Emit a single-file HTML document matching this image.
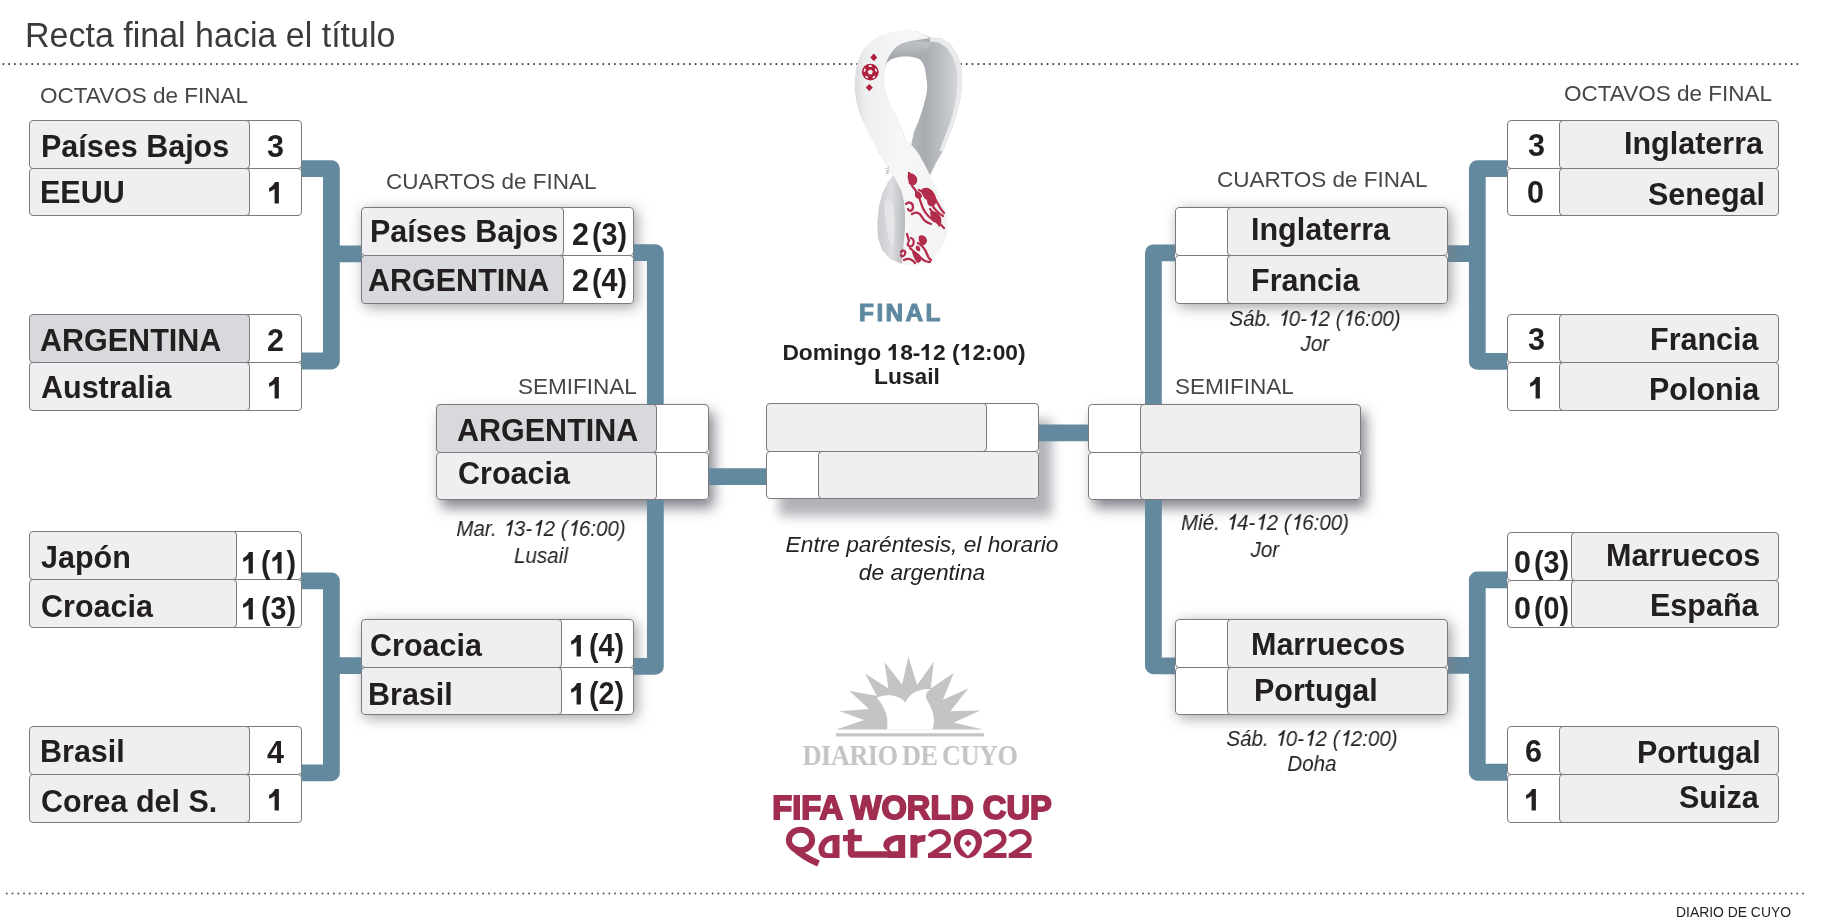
<!DOCTYPE html><html><head><meta charset="utf-8"><style>
*{margin:0;padding:0;box-sizing:border-box}
html,body{width:1828px;height:924px;overflow:hidden;background:#fff}
body{position:relative;font-family:"Liberation Sans",sans-serif}
.t{position:absolute;white-space:nowrap;line-height:1;will-change:transform;z-index:5}
.c{position:absolute;border:1px solid #7b7b7d;border-radius:4px;z-index:3}
.nm{background:#efeff1;z-index:4}
.hl{background:#d8d9dc;z-index:4}
.sc{background:#fff}
.sh{position:absolute;border-radius:4px;z-index:1;background:#fff}
.dots{position:absolute;height:2px;background:repeating-linear-gradient(to right,#5a5a5a 0 2px,transparent 2px 5.75px)}
svg{position:absolute;overflow:visible}
.g1{position:static;display:inline-block;vertical-align:baseline;fill:currentColor}
</style></head><body><div class="t" style="left:24.61px;top:18px;font-size:34px;color:#3b3b3e;transform:scale(1.0,1.04);transform-origin:left 29px;">Recta final hacia el título</div>
<svg style="left:0;top:0;z-index:0" width="1828" height="924" viewBox="0 0 1828 924"><line x1="3.4" y1="64.1" x2="1797.5" y2="64.1" stroke="#4a4a4a" stroke-width="2.1" stroke-dasharray="0 5.7685" stroke-linecap="round"/><line x1="6.8" y1="893.5" x2="1803" y2="893.5" stroke="#505050" stroke-width="1.9" stroke-dasharray="0 5.7386" stroke-linecap="round"/></svg>
<div class="t" style="left:1675.86px;top:906px;font-size:13.9px;color:#222;">DIARIO DE CUYO</div>
<div class="t" style="left:40.43px;top:85px;font-size:22.5px;color:#47474a;">OCTAVOS de FINAL</div>
<div class="t" style="right:56.45px;top:83px;font-size:22.5px;color:#47474a;">OCTAVOS de FINAL</div>
<div class="t" style="left:385.86px;top:171px;font-size:22.5px;color:#47474a;">CUARTOS de FINAL</div>
<div class="t" style="left:1216.76px;top:169px;font-size:22.5px;color:#47474a;">CUARTOS de FINAL</div>
<div class="t" style="right:1191.05px;top:376px;font-size:22.5px;color:#47474a;">SEMIFINAL</div>
<div class="t" style="left:1174.78px;top:376px;font-size:22.5px;color:#47474a;">SEMIFINAL</div>
<div class="t" style="left:-98.70px;width:2000px;text-align:center;top:301px;font-size:24.4px;font-weight:700;color:#5e89a0;letter-spacing:2.4px;-webkit-text-stroke:1px #5e89a0;">FINAL</div>
<div class="t" style="left:-96.00px;width:2000px;text-align:center;top:341px;font-size:22.8px;font-weight:700;color:#231f20;">Domingo <svg class="g1" width="12.68" height="16.07" viewBox="0 0 12.68 16.07"><path d="M5.68,16.07 L8.89,16.07 L8.89,0 L5.97,0 C5.24,1.94 3.65,3.65 1.57,4.56 L1.57,7.32 C3.19,6.84 4.56,6.04 5.68,5.02 Z"/></svg>8-<svg class="g1" width="12.68" height="16.07" viewBox="0 0 12.68 16.07"><path d="M5.68,16.07 L8.89,16.07 L8.89,0 L5.97,0 C5.24,1.94 3.65,3.65 1.57,4.56 L1.57,7.32 C3.19,6.84 4.56,6.04 5.68,5.02 Z"/></svg>2 (<svg class="g1" width="12.68" height="16.07" viewBox="0 0 12.68 16.07"><path d="M5.68,16.07 L8.89,16.07 L8.89,0 L5.97,0 C5.24,1.94 3.65,3.65 1.57,4.56 L1.57,7.32 C3.19,6.84 4.56,6.04 5.68,5.02 Z"/></svg>2:00)</div>
<div class="t" style="left:-93.00px;width:2000px;text-align:center;top:365px;font-size:22.8px;font-weight:700;color:#231f20;">Lusail</div>
<div class="t" style="left:-459.40px;width:2000px;text-align:center;top:518px;font-size:22.5px;font-style:italic;color:#222;transform:scale(0.913,1.0);transform-origin:center 18px;">Mar. <svg class="g1" width="12.51" height="15.86" viewBox="0 0 12.51 15.86"><path d="M5.96,15.86 L8.21,15.86 L11.58,0.00 L9.90,0.00 C8.61,1.80 6.93,3.38 4.71,4.28 L4.31,6.19 C5.95,5.85 7.45,5.17 8.43,4.28 Z"/></svg>3-<svg class="g1" width="12.51" height="15.86" viewBox="0 0 12.51 15.86"><path d="M5.96,15.86 L8.21,15.86 L11.58,0.00 L9.90,0.00 C8.61,1.80 6.93,3.38 4.71,4.28 L4.31,6.19 C5.95,5.85 7.45,5.17 8.43,4.28 Z"/></svg>2 (<svg class="g1" width="12.51" height="15.86" viewBox="0 0 12.51 15.86"><path d="M5.96,15.86 L8.21,15.86 L11.58,0.00 L9.90,0.00 C8.61,1.80 6.93,3.38 4.71,4.28 L4.31,6.19 C5.95,5.85 7.45,5.17 8.43,4.28 Z"/></svg>6:00)</div>
<div class="t" style="left:-459.40px;width:2000px;text-align:center;top:545px;font-size:22.5px;font-style:italic;color:#222;transform:scale(0.913,1.0);transform-origin:center 18px;">Lusail</div>
<div class="t" style="left:314.60px;width:2000px;text-align:center;top:308px;font-size:22.5px;font-style:italic;color:#222;transform:scale(0.913,1.0);transform-origin:center 18px;">Sáb. <svg class="g1" width="12.51" height="15.86" viewBox="0 0 12.51 15.86"><path d="M5.96,15.86 L8.21,15.86 L11.58,0.00 L9.90,0.00 C8.61,1.80 6.93,3.38 4.71,4.28 L4.31,6.19 C5.95,5.85 7.45,5.17 8.43,4.28 Z"/></svg>0-<svg class="g1" width="12.51" height="15.86" viewBox="0 0 12.51 15.86"><path d="M5.96,15.86 L8.21,15.86 L11.58,0.00 L9.90,0.00 C8.61,1.80 6.93,3.38 4.71,4.28 L4.31,6.19 C5.95,5.85 7.45,5.17 8.43,4.28 Z"/></svg>2 (<svg class="g1" width="12.51" height="15.86" viewBox="0 0 12.51 15.86"><path d="M5.96,15.86 L8.21,15.86 L11.58,0.00 L9.90,0.00 C8.61,1.80 6.93,3.38 4.71,4.28 L4.31,6.19 C5.95,5.85 7.45,5.17 8.43,4.28 Z"/></svg>6:00)</div>
<div class="t" style="left:314.60px;width:2000px;text-align:center;top:333px;font-size:22.5px;font-style:italic;color:#222;transform:scale(0.913,1.0);transform-origin:center 18px;">Jor</div>
<div class="t" style="left:264.50px;width:2000px;text-align:center;top:512px;font-size:22.5px;font-style:italic;color:#222;transform:scale(0.913,1.0);transform-origin:center 18px;">Mié. <svg class="g1" width="12.51" height="15.86" viewBox="0 0 12.51 15.86"><path d="M5.96,15.86 L8.21,15.86 L11.58,0.00 L9.90,0.00 C8.61,1.80 6.93,3.38 4.71,4.28 L4.31,6.19 C5.95,5.85 7.45,5.17 8.43,4.28 Z"/></svg>4-<svg class="g1" width="12.51" height="15.86" viewBox="0 0 12.51 15.86"><path d="M5.96,15.86 L8.21,15.86 L11.58,0.00 L9.90,0.00 C8.61,1.80 6.93,3.38 4.71,4.28 L4.31,6.19 C5.95,5.85 7.45,5.17 8.43,4.28 Z"/></svg>2 (<svg class="g1" width="12.51" height="15.86" viewBox="0 0 12.51 15.86"><path d="M5.96,15.86 L8.21,15.86 L11.58,0.00 L9.90,0.00 C8.61,1.80 6.93,3.38 4.71,4.28 L4.31,6.19 C5.95,5.85 7.45,5.17 8.43,4.28 Z"/></svg>6:00)</div>
<div class="t" style="left:264.50px;width:2000px;text-align:center;top:539px;font-size:22.5px;font-style:italic;color:#222;transform:scale(0.913,1.0);transform-origin:center 18px;">Jor</div>
<div class="t" style="left:312.00px;width:2000px;text-align:center;top:728px;font-size:22.5px;font-style:italic;color:#222;transform:scale(0.913,1.0);transform-origin:center 18px;">Sáb. <svg class="g1" width="12.51" height="15.86" viewBox="0 0 12.51 15.86"><path d="M5.96,15.86 L8.21,15.86 L11.58,0.00 L9.90,0.00 C8.61,1.80 6.93,3.38 4.71,4.28 L4.31,6.19 C5.95,5.85 7.45,5.17 8.43,4.28 Z"/></svg>0-<svg class="g1" width="12.51" height="15.86" viewBox="0 0 12.51 15.86"><path d="M5.96,15.86 L8.21,15.86 L11.58,0.00 L9.90,0.00 C8.61,1.80 6.93,3.38 4.71,4.28 L4.31,6.19 C5.95,5.85 7.45,5.17 8.43,4.28 Z"/></svg>2 (<svg class="g1" width="12.51" height="15.86" viewBox="0 0 12.51 15.86"><path d="M5.96,15.86 L8.21,15.86 L11.58,0.00 L9.90,0.00 C8.61,1.80 6.93,3.38 4.71,4.28 L4.31,6.19 C5.95,5.85 7.45,5.17 8.43,4.28 Z"/></svg>2:00)</div>
<div class="t" style="left:312.00px;width:2000px;text-align:center;top:753px;font-size:22.5px;font-style:italic;color:#222;transform:scale(0.913,1.0);transform-origin:center 18px;">Doha</div>
<div class="t" style="left:-78.40px;width:2000px;text-align:center;top:533px;font-size:22.73px;font-style:italic;color:#222;">Entre paréntesis, el horario</div>
<div class="t" style="left:-78.40px;width:2000px;text-align:center;top:561px;font-size:22.73px;font-style:italic;color:#222;">de argentina</div>
<svg style="left:0;top:0;z-index:2" width="1828" height="924" viewBox="0 0 1828 924"><g fill="none" stroke="#63899e" stroke-width="16.8" stroke-linejoin="round"><path d="M301 168.7 H331.4 V361 H301 M331.4 253.9 H362"/><path d="M301 580.85 H331.4 V772.9 H301 M331.4 665.65 H362"/><path d="M633 252.6 H655.35 V666.4 H633"/><path d="M708 476.65 H767"/><path d="M1507 168.7 H1477.3 V361.4 H1507 M1477.3 253.65 H1446"/><path d="M1507 579.85 H1477.3 V772.25 H1507 M1477.3 665.45 H1446"/><path d="M1175 252.8 H1153.4 V665.85 H1175"/><path d="M1038 432.85 H1088"/></g></svg>
<div class="c sc" style="left:237px;top:120px;width:65px;height:49px"></div>
<div class="c nm" style="left:29px;top:120px;width:221px;height:49px"></div>
<div class="t" style="left:40.96px;top:131px;font-size:30.5px;font-weight:700;color:#231f20;">Países Bajos</div>
<div class="t" style="left:267.30px;top:131px;font-size:30.5px;font-weight:700;color:#231f20;">3</div>
<div class="c sc" style="left:237px;top:168px;width:65px;height:48px"></div>
<div class="c nm" style="left:29px;top:168px;width:221px;height:48px"></div>
<div class="t" style="left:40.26px;top:177px;font-size:30.5px;font-weight:700;color:#231f20;">EEUU</div>
<div class="t" style="left:267.08px;top:177px;font-size:30.5px;font-weight:700;color:#231f20;"><svg class="g1" width="16.96" height="21.50" viewBox="0 0 16.96 21.50"><path d="M7.59,21.50 L11.89,21.50 L11.89,0 L7.99,0 C7.02,2.59 4.88,4.88 2.10,6.10 L2.10,9.79 C4.27,9.15 6.10,8.08 7.59,6.71 Z"/></svg></div>
<div class="c sc" style="left:237px;top:314px;width:65px;height:49px"></div>
<div class="c hl" style="left:29px;top:314px;width:221px;height:49px"></div>
<div class="t" style="left:40.34px;top:325px;font-size:30.5px;font-weight:700;color:#231f20;">ARGENTINA</div>
<div class="t" style="left:266.94px;top:325px;font-size:30.5px;font-weight:700;color:#231f20;">2</div>
<div class="c sc" style="left:237px;top:362px;width:65px;height:49px"></div>
<div class="c nm" style="left:29px;top:362px;width:221px;height:49px"></div>
<div class="t" style="left:40.54px;top:372px;font-size:30.5px;font-weight:700;color:#231f20;">Australia</div>
<div class="t" style="left:267.08px;top:372px;font-size:30.5px;font-weight:700;color:#231f20;"><svg class="g1" width="16.96" height="21.50" viewBox="0 0 16.96 21.50"><path d="M7.59,21.50 L11.89,21.50 L11.89,0 L7.99,0 C7.02,2.59 4.88,4.88 2.10,6.10 L2.10,9.79 C4.27,9.15 6.10,8.08 7.59,6.71 Z"/></svg></div>
<div class="c sc" style="left:224px;top:531px;width:78px;height:49px"></div>
<div class="c nm" style="left:29px;top:531px;width:208px;height:49px"></div>
<div class="t" style="left:41.24px;top:542px;font-size:30.5px;font-weight:700;color:#231f20;">Japón</div>
<div class="t" style="left:240.98px;top:547px;font-size:30.5px;font-weight:700;color:#231f20;"><svg class="g1" width="16.96" height="21.50" viewBox="0 0 16.96 21.50"><path d="M7.59,21.50 L11.89,21.50 L11.89,0 L7.99,0 C7.02,2.59 4.88,4.88 2.10,6.10 L2.10,9.79 C4.27,9.15 6.10,8.08 7.59,6.71 Z"/></svg><span style="display:inline-block;margin-left:3.3px;transform:scaleX(0.94);transform-origin:left">(<svg class="g1" width="16.96" height="21.50" viewBox="0 0 16.96 21.50"><path d="M7.59,21.50 L11.89,21.50 L11.89,0 L7.99,0 C7.02,2.59 4.88,4.88 2.10,6.10 L2.10,9.79 C4.27,9.15 6.10,8.08 7.59,6.71 Z"/></svg>)</span></div>
<div class="c sc" style="left:224px;top:579px;width:78px;height:49px"></div>
<div class="c nm" style="left:29px;top:579px;width:208px;height:49px"></div>
<div class="t" style="left:41.15px;top:591px;font-size:30.5px;font-weight:700;color:#231f20;">Croacia</div>
<div class="t" style="left:240.98px;top:593px;font-size:30.5px;font-weight:700;color:#231f20;"><svg class="g1" width="16.96" height="21.50" viewBox="0 0 16.96 21.50"><path d="M7.59,21.50 L11.89,21.50 L11.89,0 L7.99,0 C7.02,2.59 4.88,4.88 2.10,6.10 L2.10,9.79 C4.27,9.15 6.10,8.08 7.59,6.71 Z"/></svg><span style="display:inline-block;margin-left:3.3px;transform:scaleX(0.94);transform-origin:left">(3)</span></div>
<div class="c sc" style="left:237px;top:726px;width:65px;height:49px"></div>
<div class="c nm" style="left:29px;top:726px;width:221px;height:49px"></div>
<div class="t" style="left:39.86px;top:736px;font-size:30.5px;font-weight:700;color:#231f20;">Brasil</div>
<div class="t" style="left:266.94px;top:737px;font-size:30.5px;font-weight:700;color:#231f20;">4</div>
<div class="c sc" style="left:237px;top:774px;width:65px;height:49px"></div>
<div class="c nm" style="left:29px;top:774px;width:221px;height:49px"></div>
<div class="t" style="left:41.05px;top:786px;font-size:30.5px;font-weight:700;color:#231f20;">Corea del S.</div>
<div class="t" style="left:266.98px;top:784px;font-size:30.5px;font-weight:700;color:#231f20;"><svg class="g1" width="16.96" height="21.50" viewBox="0 0 16.96 21.50"><path d="M7.59,21.50 L11.89,21.50 L11.89,0 L7.99,0 C7.02,2.59 4.88,4.88 2.10,6.10 L2.10,9.79 C4.27,9.15 6.10,8.08 7.59,6.71 Z"/></svg></div>
<div class="sh" style="left:361px;top:207px;width:273px;height:97px;box-shadow:3px 3px 14px rgba(120,122,128,0.7);z-index:1"></div>
<div class="c sc" style="left:551px;top:207px;width:83px;height:49px"></div>
<div class="c nm" style="left:361px;top:207px;width:203px;height:49px"></div>
<div class="t" style="left:369.66px;top:216px;font-size:30.5px;font-weight:700;color:#231f20;">Países Bajos</div>
<div class="t" style="left:572.14px;top:219px;font-size:30.5px;font-weight:700;color:#231f20;">2<span style="display:inline-block;margin-left:3.3px;transform:scaleX(0.94);transform-origin:left">(3)</span></div>
<div class="c sc" style="left:551px;top:255px;width:83px;height:49px"></div>
<div class="c hl" style="left:361px;top:255px;width:203px;height:49px"></div>
<div class="t" style="left:367.64px;top:265px;font-size:30.5px;font-weight:700;color:#231f20;">ARGENTINA</div>
<div class="t" style="left:572.14px;top:265px;font-size:30.5px;font-weight:700;color:#231f20;">2<span style="display:inline-block;margin-left:3.3px;transform:scaleX(0.94);transform-origin:left">(4)</span></div>
<div class="sh" style="left:361px;top:619px;width:273px;height:96px;box-shadow:3px 3px 14px rgba(120,122,128,0.7);z-index:1"></div>
<div class="c sc" style="left:549px;top:619px;width:85px;height:49px"></div>
<div class="c nm" style="left:361px;top:619px;width:201px;height:49px"></div>
<div class="t" style="left:370.25px;top:630px;font-size:30.5px;font-weight:700;color:#231f20;">Croacia</div>
<div class="t" style="left:568.98px;top:630px;font-size:30.5px;font-weight:700;color:#231f20;"><svg class="g1" width="16.96" height="21.50" viewBox="0 0 16.96 21.50"><path d="M7.59,21.50 L11.89,21.50 L11.89,0 L7.99,0 C7.02,2.59 4.88,4.88 2.10,6.10 L2.10,9.79 C4.27,9.15 6.10,8.08 7.59,6.71 Z"/></svg><span style="display:inline-block;margin-left:3.3px;transform:scaleX(0.94);transform-origin:left">(4)</span></div>
<div class="c sc" style="left:549px;top:667px;width:85px;height:48px"></div>
<div class="c nm" style="left:361px;top:667px;width:201px;height:48px"></div>
<div class="t" style="left:367.86px;top:679px;font-size:30.5px;font-weight:700;color:#231f20;">Brasil</div>
<div class="t" style="left:568.98px;top:678px;font-size:30.5px;font-weight:700;color:#231f20;"><svg class="g1" width="16.96" height="21.50" viewBox="0 0 16.96 21.50"><path d="M7.59,21.50 L11.89,21.50 L11.89,0 L7.99,0 C7.02,2.59 4.88,4.88 2.10,6.10 L2.10,9.79 C4.27,9.15 6.10,8.08 7.59,6.71 Z"/></svg><span style="display:inline-block;margin-left:3.3px;transform:scaleX(0.94);transform-origin:left">(2)</span></div>
<div class="sh" style="left:436px;top:404px;width:273px;height:96px;box-shadow:5px 8px 13px rgba(50,55,65,0.6);z-index:1"></div>
<div class="c sc" style="left:644px;top:404px;width:65px;height:49px"></div>
<div class="c hl" style="left:436px;top:404px;width:221px;height:49px"></div>
<div class="t" style="left:457.24px;top:415px;font-size:30.5px;font-weight:700;color:#231f20;">ARGENTINA</div>
<div class="c sc" style="left:644px;top:452px;width:65px;height:48px"></div>
<div class="c nm" style="left:436px;top:452px;width:221px;height:48px"></div>
<div class="t" style="left:457.55px;top:458px;font-size:30.5px;font-weight:700;color:#231f20;">Croacia</div>
<div class="sh" style="left:766px;top:403px;width:273px;height:96px;box-shadow:13px 17px 12px rgba(60,65,75,0.4)"></div>
<div class="c sc" style="left:974px;top:403px;width:65px;height:49px"></div>
<div class="c nm" style="left:766px;top:403px;width:221px;height:49px"></div>
<div class="c sc" style="left:766px;top:451px;width:64px;height:48px"></div>
<div class="c nm" style="left:818px;top:451px;width:221px;height:48px"></div>
<div class="sh" style="left:1088px;top:404px;width:273px;height:96px;box-shadow:5px 8px 13px rgba(50,55,65,0.6);z-index:1"></div>
<div class="c sc" style="left:1088px;top:404px;width:65px;height:49px"></div>
<div class="c nm" style="left:1140px;top:404px;width:221px;height:49px"></div>
<div class="c sc" style="left:1088px;top:452px;width:65px;height:48px"></div>
<div class="c nm" style="left:1140px;top:452px;width:221px;height:48px"></div>
<div class="sh" style="left:1175px;top:207px;width:273px;height:97px;box-shadow:3px 3px 14px rgba(120,122,128,0.7);z-index:3"></div>
<div class="c sc" style="left:1175px;top:207px;width:65px;height:49px"></div>
<div class="c nm" style="left:1227px;top:207px;width:221px;height:49px"></div>
<div class="t" style="left:1250.66px;top:214px;font-size:30.5px;font-weight:700;color:#231f20;">Inglaterra</div>
<div class="c sc" style="left:1175px;top:255px;width:65px;height:49px"></div>
<div class="c nm" style="left:1227px;top:255px;width:221px;height:49px"></div>
<div class="t" style="left:1251.46px;top:265px;font-size:30.5px;font-weight:700;color:#231f20;">Francia</div>
<div class="sh" style="left:1175px;top:619px;width:273px;height:96px;box-shadow:3px 3px 14px rgba(120,122,128,0.7);z-index:3"></div>
<div class="c sc" style="left:1175px;top:619px;width:65px;height:49px"></div>
<div class="c nm" style="left:1227px;top:619px;width:221px;height:49px"></div>
<div class="t" style="left:1250.66px;top:629px;font-size:30.5px;font-weight:700;color:#231f20;">Marruecos</div>
<div class="c sc" style="left:1175px;top:667px;width:65px;height:48px"></div>
<div class="c nm" style="left:1227px;top:667px;width:221px;height:48px"></div>
<div class="t" style="left:1253.76px;top:675px;font-size:30.5px;font-weight:700;color:#231f20;">Portugal</div>
<div class="c sc" style="left:1507px;top:120px;width:65px;height:49px"></div>
<div class="c nm" style="left:1559px;top:120px;width:220px;height:49px"></div>
<div class="t" style="right:65.39px;top:128px;font-size:30.5px;font-weight:700;color:#231f20;">Inglaterra</div>
<div class="t" style="left:1528.00px;top:130px;font-size:30.5px;font-weight:700;color:#231f20;">3</div>
<div class="c sc" style="left:1507px;top:168px;width:65px;height:48px"></div>
<div class="c nm" style="left:1559px;top:168px;width:220px;height:48px"></div>
<div class="t" style="right:63.04px;top:179px;font-size:30.5px;font-weight:700;color:#231f20;">Senegal</div>
<div class="t" style="left:1527.49px;top:177px;font-size:30.5px;font-weight:700;color:#231f20;">0</div>
<div class="c sc" style="left:1507px;top:314px;width:65px;height:49px"></div>
<div class="c nm" style="left:1559px;top:314px;width:220px;height:49px"></div>
<div class="t" style="right:69.19px;top:324px;font-size:30.5px;font-weight:700;color:#231f20;">Francia</div>
<div class="t" style="left:1528.00px;top:324px;font-size:30.5px;font-weight:700;color:#231f20;">3</div>
<div class="c sc" style="left:1507px;top:362px;width:65px;height:49px"></div>
<div class="c nm" style="left:1559px;top:362px;width:220px;height:49px"></div>
<div class="t" style="right:69.19px;top:374px;font-size:30.5px;font-weight:700;color:#231f20;">Polonia</div>
<div class="t" style="left:1527.58px;top:372px;font-size:30.5px;font-weight:700;color:#231f20;"><svg class="g1" width="16.96" height="21.50" viewBox="0 0 16.96 21.50"><path d="M7.59,21.50 L11.89,21.50 L11.89,0 L7.99,0 C7.02,2.59 4.88,4.88 2.10,6.10 L2.10,9.79 C4.27,9.15 6.10,8.08 7.59,6.71 Z"/></svg></div>
<div class="c sc" style="left:1507px;top:532px;width:77px;height:49px"></div>
<div class="c nm" style="left:1571px;top:532px;width:208px;height:49px"></div>
<div class="t" style="right:67.75px;top:540px;font-size:30.5px;font-weight:700;color:#231f20;">Marruecos</div>
<div class="t" style="left:1513.79px;top:547px;font-size:30.5px;font-weight:700;color:#231f20;">0<span style="display:inline-block;margin-left:3.3px;transform:scaleX(0.94);transform-origin:left">(3)</span></div>
<div class="c sc" style="left:1507px;top:580px;width:77px;height:48px"></div>
<div class="c nm" style="left:1571px;top:580px;width:208px;height:48px"></div>
<div class="t" style="right:69.19px;top:590px;font-size:30.5px;font-weight:700;color:#231f20;">España</div>
<div class="t" style="left:1513.79px;top:593px;font-size:30.5px;font-weight:700;color:#231f20;">0<span style="display:inline-block;margin-left:3.3px;transform:scaleX(0.94);transform-origin:left">(0)</span></div>
<div class="c sc" style="left:1507px;top:726px;width:65px;height:49px"></div>
<div class="c nm" style="left:1559px;top:726px;width:220px;height:49px"></div>
<div class="t" style="right:67.34px;top:737px;font-size:30.5px;font-weight:700;color:#231f20;">Portugal</div>
<div class="t" style="left:1524.58px;top:736px;font-size:30.5px;font-weight:700;color:#231f20;">6</div>
<div class="c sc" style="left:1507px;top:774px;width:65px;height:49px"></div>
<div class="c nm" style="left:1559px;top:774px;width:220px;height:49px"></div>
<div class="t" style="right:69.69px;top:782px;font-size:30.5px;font-weight:700;color:#231f20;">Suiza</div>
<div class="t" style="left:1524.48px;top:784px;font-size:30.5px;font-weight:700;color:#231f20;"><svg class="g1" width="16.96" height="21.50" viewBox="0 0 16.96 21.50"><path d="M7.59,21.50 L11.89,21.50 L11.89,0 L7.99,0 C7.02,2.59 4.88,4.88 2.10,6.10 L2.10,9.79 C4.27,9.15 6.10,8.08 7.59,6.71 Z"/></svg></div>
<svg style="left:830px;top:650px;z-index:1" width="160" height="90" viewBox="0 0 1643 924">
<path fill="#c4c3c5" d="M65 815 L350 720 L100 630 L400 605 L200 420 L480 470 L360 240 L600 395 L560 125 L740 355 L805 70 L895 360 L1065 120 L1035 395 L1270 235 L1160 510 L1420 395 L1235 630 L1545 620 L1270 745 L1570 815 Z"/>
<path fill="#fff" d="M585 815 C600 720 590 620 480 490 C540 455 700 440 775 540 C800 470 880 395 1035 400 C980 430 975 480 1000 520 C1060 620 1090 720 1050 815 Z"/>
<rect x="62" y="855" width="1520" height="33" fill="#c4c3c5"/>
</svg>
<div class="t" style="left:-89.70px;width:2000px;text-align:center;top:740px;font-size:30px;font-weight:700;color:#c4c4c6;font-family:'Liberation Serif', serif;transform:scale(0.875,1.0);transform-origin:center 25px;letter-spacing:-0.5px;word-spacing:-2px;">DIARIO DE CUYO</div>
<div class="t" style="left:-88.50px;width:2000px;text-align:center;top:792px;font-size:32.6px;font-weight:700;color:#a12e50;-webkit-text-stroke:1.8px #a12e50;">FIFA WORLD CUP</div>
<svg style="left:0;top:0;z-index:1" width="1828" height="924" viewBox="0 0 1828 924"><ellipse cx="800.5" cy="840" rx="11.6" ry="10.2" fill="none" stroke="#a12e50" stroke-width="6"/><path d="M794,848 C800,854 808,859 818.5,863.5" fill="none" stroke="#a12e50" stroke-width="6.5"/><path fill-rule="evenodd" fill="#a12e50" d="M839.5,835 L839.5,858 L826,858 C821,858 818.5,854 818.5,849 C818.5,842 825,835.5 832.5,835 Z M832.5,840.5 C828,841.5 824.5,845.5 824.5,849.5 C824.5,852 826,853.2 828,853.2 L832.5,853.2 Z"/><path fill="#a12e50" d="M847.8,830 L854.4,828.5 L854.4,835 L861.8,835 L861.8,841.2 L854.4,841.2 L854.4,851.3 L889.4,851.3 L889.4,857.8 L853,857.8 C849.5,857.8 847.8,855.5 847.8,852 L847.8,841.2 L843,841.2 L843,835 L847.8,835 Z"/><path fill-rule="evenodd" fill="#a12e50" d="M905.2,835 L905.2,858 L888,858 L888,851.3 C885,850 883.3,847 883.3,845 C883.3,839 890,835.5 898,835 Z M898.2,840.5 C893.5,841.5 889.5,844.5 889.5,848 C889.5,850.5 891,851.3 893,851.3 L898.2,851.3 Z"/><path fill="#a12e50" d="M910.4,835 L917.4,835 L917.4,836.5 C919,835.5 922,835 925.7,835 L925.2,841.6 C921,841.6 919,842.5 917.4,844 L917.4,857.8 L910.4,857.8 Z"/><path d="M930,836.5 C932,832 936,831.5 939.5,831.5 C945.5,831.5 948.5,835 948.5,839.5 C948.5,844 944,846.5 939,849.5 L931,855" fill="none" stroke="#a12e50" stroke-width="5"/><rect x="928" y="853" width="23" height="5" fill="#a12e50"/><path fill-rule="evenodd" fill="#a12e50" d="M968,829 C976.5,829 982,834 982,841 C982,850 975,858.2 968,858.2 C961,858.2 953.8,850 953.8,841 C953.8,834 959.5,829 968,829 Z M968,834.8 C972.5,834.8 975.8,838 975.8,843 C975.8,848 971,853 968,855.8 C965,853 960,848 960,843 C960,838 963.5,834.8 968,834.8 Z"/><path fill="#a12e50" d="M968,839.8 L971.6,843.4 L968,847 L964.4,843.4 Z"/><path d="M985.5,836.5 C987.5,832 991.5,831.5 995.0,831.5 C1001.0,831.5 1004.0,835 1004.0,839.5 C1004.0,844 999.5,846.5 994.5,849.5 L986.5,855" fill="none" stroke="#a12e50" stroke-width="5"/><rect x="983.5" y="853" width="23" height="5" fill="#a12e50"/><path d="M1010.7,836.5 C1012.7,832 1016.7,831.5 1020.2,831.5 C1026.2,831.5 1029.2,835 1029.2,839.5 C1029.2,844 1024.7,846.5 1019.7,849.5 L1011.7,855" fill="none" stroke="#a12e50" stroke-width="5"/><rect x="1008.7" y="853" width="23" height="5" fill="#a12e50"/></svg>
<svg style="left:0;top:0;z-index:1;will-change:transform" width="1828" height="924" viewBox="0 0 1828 924">
<defs>
<linearGradient id="gb" gradientUnits="userSpaceOnUse" x1="905" y1="0" x2="962" y2="0">
<stop offset="0" stop-color="#b8bbbf"/><stop offset="0.35" stop-color="#a8acb1"/><stop offset="0.75" stop-color="#c4c7ca"/><stop offset="1" stop-color="#dcdddf"/>
</linearGradient>
<linearGradient id="gl" gradientUnits="userSpaceOnUse" x1="877" y1="0" x2="906" y2="0">
<stop offset="0" stop-color="#c9cbce"/><stop offset="0.5" stop-color="#dcdde0"/><stop offset="1" stop-color="#b4b7bb"/>
</linearGradient>
<linearGradient id="gw" gradientUnits="userSpaceOnUse" x1="855" y1="0" x2="948" y2="0">
<stop offset="0" stop-color="#dadbdd"/><stop offset="0.12" stop-color="#eeeff0"/><stop offset="0.5" stop-color="#f7f7f8"/><stop offset="1" stop-color="#f3f3f4"/>
</linearGradient>
<linearGradient id="gt" gradientUnits="userSpaceOnUse" x1="0" y1="40" x2="0" y2="60">
<stop offset="0" stop-color="#c3c6c9"/><stop offset="1" stop-color="#9fa3a8"/>
</linearGradient>
</defs>
<path fill="url(#gb)" d="M906,30.6 L916,31.3 L924.4,34.8 L931.5,37.7 L941.3,38.4 L949.7,43.3 L956.8,53.1 L961.7,67.2 L962.4,81.3 L961,95.4 L958.2,109.4 L954,123.5 L948.3,137.6 L942.7,151.6 L936,163 L930,175.2 L910,180 L893.5,175.2 L878,151.6 L860,100 L872.4,40.5 Z"/>
<path fill="url(#gt)" d="M886,66 C888,55 896,46 906,43 C914,41 924,41 932,43 C926,50 922,56 920,60 C915,57 905,56 898,57 C892,58 888,62 886,66 Z"/>
<path fill="url(#gl)" d="M893.5,175.2 L887.8,182.2 L882.2,193.5 L878.7,207.5 L877.3,224.4 L878,238 L882,250 L890,259 L902,264 L906,230 L904,195 Z"/>
<path fill="#e4e5e7" d="M885,200 C889,197 893,200 894,210 C895,222 895,236 893,248 C890,244 887,235 886,225 C885,215 884,205 885,200 Z"/>
<path fill="#fff" d="M885,67.2 C886.5,62 890,58.5 899,57 C905,56.2 913,56.5 918.8,58.8 C923,61.5 925.2,67 925.8,74.2 C926.8,80 927.4,85 927.2,88.3 C926.7,94 925.6,98.5 924.4,102.4 C923,108 921.7,112 920.2,116.5 C918.3,122 916.3,126 914.6,130.5 C913,136 911.5,142 910.3,152 C909,146 907.6,142 906.1,140 C903.5,134 901.3,128 899.1,123.5 C896.3,117 894,113 892,109.4 C889.6,104 887.8,100 886.4,95.4 C884.6,90 883.5,86 883.6,81.3 C883.6,76 884,71 885,67.2 Z"/>
<path fill="url(#gw)" d="M930,38 L924.4,34.8 C921,33 918,31.5 916,31.3 L906,30.6 C900,30.8 896,31.3 893.5,32 C889,33 885,33.8 882.2,34.8 C878,36.5 875,38.5 872.4,40.5 C868.5,43.5 866,46 863.9,48.9 C861.5,52.5 859.8,56 858.3,60.2 C856.8,64.5 855.9,69 855.5,74.2 C855,79 854.8,84 854.8,88.3 C855,91 855.2,93 855.5,95.4 C856.2,100.5 857.2,105 858.3,109.4 C859.8,114.5 861.7,119 863.9,123.5 C866,128 868.4,133 871,137.6 C873.2,142.5 875.5,147 878,151.6 C880.5,156 883.2,160 886,164 C888.6,168 891,171.5 893.5,175.2 C895.8,178.5 897.5,181.5 899,185 C900.8,189 902.1,193 903,197 C904.2,202 904.8,207 905,212 C905.2,217.5 905.1,223 905,228 C904.6,234 904.1,240 903.5,245 C903,251 902.5,257.5 902,264 C906,265.5 910.5,266.2 915,266 C919.5,265.6 923.5,264.2 927.2,262.4 C931.5,260 935.5,256.5 938.5,252.6 C941.6,248.5 944,243.5 945.5,238.5 C946.9,234 947.6,229 947.6,224.4 C947.5,219.5 946.8,215 945.5,210.4 C943.8,204.5 941.4,199 938.5,193.5 C935.8,187.5 933,181.5 930,175.2 C926.6,168 922.9,161 918.8,154.1 C915,148.5 910.8,144 906.1,140 C903.5,134 901.3,128 899.1,123.5 C896.3,117 894,113 892,109.4 C889.6,104 887.8,100 886.4,95.4 C884.6,90 883.5,86 883.6,81.3 C883.6,76 884,71 885,67.2 C886,61 889.5,54 895,48 C898,45 901.5,43.5 905,42.5 C909,41.2 913,40.4 917,40 C921.5,39.3 926,38.6 930,38 Z"/>
<path fill="#e9eaeb" d="M930,38 L941.3,38.4 L949.7,43.3 L956.8,53.1 L961.7,67.2 L962.4,81.3 L961,95.4 L958.2,109.4 L954,123.5 L948.3,137.6 L942.7,151.6 L939.5,150.5 L944.8,136.5 L950.2,122.5 L954,108.6 L956.6,95 L957.6,81.2 L956.7,68 L952.5,56.4 L946.3,47.6 L938.5,42.6 L930,41.5 Z"/>
<g fill="#b0213f">
<circle cx="870.3" cy="72.1" r="8.4"/>
<path d="M873.8,53.6 L877.3,57.4 L873.8,61.2 L870.3,57.4 Z M869.3,84 L872.8,87.6 L869.3,91.2 L865.8,87.6 Z"/>
</g>
<g fill="#f2f2f2"><path d="M870.3,69.4 L872.9,71.3 L871.9,74.3 L868.7,74.3 L867.7,71.3 Z"/>
<ellipse cx="870.3" cy="66" rx="1.8" ry="0.9"/><ellipse cx="875.9" cy="70.2" rx="0.9" ry="1.8" transform="rotate(-20 875.9 70.2)"/><ellipse cx="873.9" cy="77" rx="1.7" ry="0.9" transform="rotate(-40 873.9 77)"/><ellipse cx="866.7" cy="77" rx="1.7" ry="0.9" transform="rotate(40 866.7 77)"/><ellipse cx="864.7" cy="70.2" rx="0.9" ry="1.8" transform="rotate(20 864.7 70.2)"/></g>
<g fill="none" stroke="#b42c4b" stroke-width="2.3" stroke-linecap="round">
<path d="M909,173 L910,180 M914,176 C917,178 917,182 914,184 C911,185 909,183 910,181"/>
<path d="M912,186 C916,190 919,196 921,203 C923,210 927,216 933,220 C938,223 942,225 944,228"/>
<path d="M919,190 C924,192 928,197 931,203 C934,209 938,213 943,216"/>
<path d="M926,189 C931,192 935,198 938,204 C940,208 942,211 944,213"/>
<path d="M906,204 C909,201 913,203 913,207 C913,211 909,212 908,209"/>
<path d="M912,214 C916,211 920,213 922,217 C924,221 928,223 931,224"/>
<path d="M930,209 C933,212 935,216 934,221"/>
<path d="M907,234 L909,241 M911,238 C914,239 915,243 912,246 C909,247 907,245 908,243"/>
<path d="M910,248 C913,251 917,254 921,258 C924,261 927,262 930,262"/>
<path d="M918,243 C922,245 925,249 927,254 C928,257 929,259 931,260"/>
<path d="M901,252 C903,249 906,251 905,254 C904,257 901,257 901,255"/>
<path d="M904,260 C908,258 912,259 915,263"/>
</g>
<g fill="#b42c4b">
<path d="M915,192 C918,190 922,193 922,197 C920,200 916,199 915,196 Z"/>
<path d="M927,200 C930,199 933,203 932,206 C929,207 927,204 927,200 Z"/>
<path d="M921,190 C925,186 931,188 934,193 C937,198 937,203 934,206 C931,202 928,200 925,199 C923,196 921,193 921,190 Z"/>
<path d="M930,212 C934,210 939,213 941,218 C942,222 941,226 939,227 C937,223 934,220 931,218 Z"/>
<path d="M908,174 C911,172 915,174 916,178 C916,182 913,185 910,184 C908,181 907,177 908,174 Z"/>
<path d="M919,236 C922,234 926,236 927,240 C927,244 924,246 921,245 C919,242 918,239 919,236 Z"/>
<path d="M912,252 C915,251 919,253 921,257 C922,260 920,263 917,263 C915,260 913,256 912,252 Z"/>
<path d="M916,246 C919,245 921,248 920,251 C917,252 915,249 916,246 Z"/>
</g>
<text x="885" y="167" font-size="5" fill="#999" font-family="Liberation Sans" transform="rotate(80 885 167)">TM</text>
</svg></body></html>
